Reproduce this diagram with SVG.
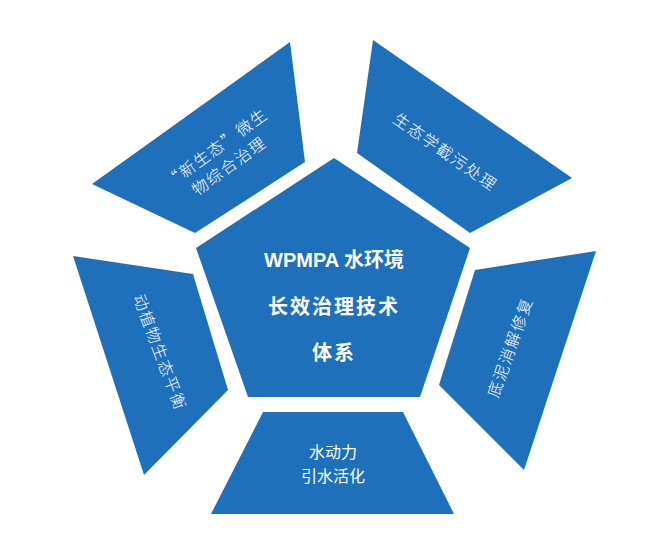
<svg xmlns="http://www.w3.org/2000/svg" width="662" height="534" viewBox="0 0 662 534">
<style>
.shape{fill:#1E70BA;stroke:none}
.t{fill:#ffffff;font-family:"Liberation Sans","Noto Sans CJK SC",sans-serif;font-size:16px;text-anchor:middle;dominant-baseline:central}
.r{font-family:"Noto Sans CJK SC",sans-serif;font-weight:300;letter-spacing:1.5px}
.c{font-size:20px;font-weight:bold}
</style>
<rect width="662" height="534" fill="#ffffff"/>
<g id="center">
<polygon class="shape" points="334,158 470,248 420,397 248,397 196,248"/>
<text class="t c" x="334" y="260">WPMPA 水环境</text>
<text class="t c" x="334" y="307" letter-spacing="2">长效治理技术</text>
<text class="t c" x="334" y="353" letter-spacing="2">体系</text>
</g>
<g id="top-left">
<polygon class="shape" points="290,42 305,162 195,233 92,184"/>
<g transform="translate(222,156) rotate(-36)">
<text class="t r" x="0" y="-11">“新生态”微生</text>
<text class="t r" x="0" y="11">物综合治理</text>
</g>
</g>
<g id="top-right">
<polygon class="shape" points="373,40 572,178 470,233 357,153"/>
<text class="t r" transform="translate(446,151) rotate(35)" x="0" y="0">生态学截污处理</text>
</g>
<g id="left">
<polygon class="shape" points="73,256 193,274 228,390 144,475"/>
<text class="t r" transform="translate(161,352) rotate(69.5)" x="0" y="0">动植物生态平衡</text>
</g>
<g id="right">
<polygon class="shape" points="596,251 524,470 439,385 475,270"/>
<text class="t r" transform="translate(509,347) rotate(-70.5)" x="0" y="0">底泥消解修复</text>
</g>
<g id="bottom">
<polygon class="shape" points="263,412 403,412 454,514 211,514"/>
<text class="t" x="333" y="452">水动力</text>
<text class="t" x="333" y="476">引水活化</text>
</g>
</svg>
